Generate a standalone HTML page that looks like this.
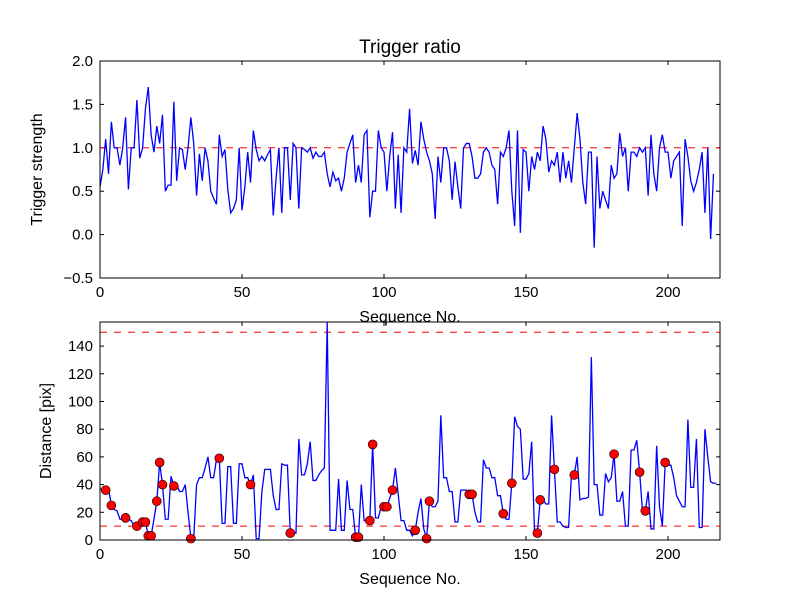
<!DOCTYPE html>
<html><head><meta charset="utf-8"><style>
body{margin:0;background:#fff}
svg{display:block;font-family:"Liberation Sans",sans-serif}
</style></head><body>
<svg id="c" width="800" height="600"></svg>
<script>
const topValues=[0.55,0.75,1.1,0.7,1.3,1.0,1.0,0.8,1.0,1.35,0.52,1.0,1.0,1.55,0.88,1.0,1.45,1.7,1.15,0.95,1.25,1.05,1.38,0.5,0.57,0.57,1.53,0.62,1.0,0.98,0.75,1.0,1.35,1.05,0.45,0.93,0.62,1.0,0.85,0.5,0.42,0.35,1.15,0.9,0.98,0.52,0.25,0.3,0.4,1.0,0.28,0.55,0.95,0.6,1.2,0.98,0.85,0.9,0.85,0.92,0.98,0.22,0.65,1.0,0.25,1.0,1.0,0.4,1.05,1.0,0.3,1.0,0.98,0.95,1.0,0.88,0.95,0.9,0.9,0.95,0.7,0.55,0.72,0.62,0.65,0.5,0.65,0.95,1.05,1.15,0.6,0.8,0.6,1.15,1.2,0.2,0.5,0.5,1.2,1.0,0.95,0.5,0.9,1.18,0.3,0.92,0.25,1.0,0.95,1.45,0.82,0.97,0.8,1.3,1.1,0.95,0.85,0.7,0.18,0.9,0.6,1.0,1.0,0.85,0.4,0.84,0.55,0.3,1.0,1.05,1.05,0.9,0.65,0.65,0.7,0.95,1.0,0.95,0.8,0.75,0.35,0.95,0.9,1.0,1.2,0.5,0.1,1.2,0.02,0.98,0.95,0.5,0.9,0.75,0.95,0.85,1.25,1.1,0.72,0.85,0.8,0.95,0.6,0.95,0.65,0.85,0.6,1.0,1.4,1.1,0.6,0.35,0.95,0.95,-0.15,0.9,0.3,0.5,0.4,0.3,0.8,0.65,0.7,1.17,0.9,1.0,0.5,0.95,0.95,0.9,1.0,0.95,1.0,0.45,1.15,0.7,0.5,1.0,1.15,0.95,0.95,0.65,0.85,0.9,0.95,0.1,1.1,0.9,0.62,0.5,0.6,0.75,0.95,0.25,1.0,-0.05,0.7];
const distValues=[37,36,38,37,25,22,21,15,15,16,15,14,10,10,13,13,13,3,3,15,28,56,40,15,15,46,39,40,35,35,40,20,1,1,40,45,45,52,60,45,45,58,59,12,12,53,53,12,12,55,55,45,45,40,47,1,1,35,51,51,51,32,22,22,55,54,54,5,5,5,73,47,47,55,71,43,43,47,50,52,157,7,7,7,44,7,7,43,22,22,2,2,40,14,14,14,69,16,16,24,24,24,30,36,52,33,14,14,7,7,3,7,20,30,8,1,28,24,24,28,90,45,45,35,35,13,13,36,36,36,33,33,20,13,13,58,52,52,45,45,32,32,19,15,15,41,89,82,80,44,44,48,71,5,5,29,29,26,26,90,51,13,13,10,9,9,48,47,60,29,30,30,31,132,40,40,18,18,48,42,45,62,28,28,35,10,10,65,65,72,49,21,21,35,8,8,68,24,10,56,54,54,45,32,28,24,24,87,38,38,73,9,9,80,60,42,41,41];
const markIdx=[2,4,9,13,15,16,17,18,20,21,22,26,32,42,53,67,90,91,95,96,100,101,103,111,115,116,130,131,142,145,154,155,160,167,181,190,192,199];
const markVal=[36,25,16,10,13,13,3,3,28,56,40,39,1,59,40,5,2,2,14,69,24,24,36,7,1,28,33,33,19,41,5,29,51,47,62,49,21,56];
const xTicks=[0,50,100,150,200];
const topTicks=[-0.5,0.0,0.5,1.0,1.5,2.0];
const botTicks=[0,20,40,60,80,100,120,140];
const topRef=[1.0], botRef=[10,150];

const svg=document.getElementById('c');const NS='http://www.w3.org/2000/svg';
function mk(t,a,p){const e=document.createElementNS(NS,t);for(const k in a)e.setAttribute(k,a[k]);(p||svg).appendChild(e);return e;}
const L=100,R=720,xmax=218.3;
const sx=v=>L+v*(R-L)/xmax;
function panel(T,B,ymin,ymax,ticks,fmt,ylabel,pname,ylx){
  const sy=v=>B-(v-ymin)*(B-T)/(ymax-ymin);
  const g=mk('g',{});
  
  
  const cp=mk('clipPath',{id:'cp'+pname},g);mk('rect',{x:L,y:T,width:R-L,height:B-T},cp);
  xTicks.forEach(t=>{const x=sx(t);mk('line',{x1:x,x2:x,y1:B,y2:B-4,stroke:'#000'},g);mk('line',{x1:x,x2:x,y1:T,y2:T+4,stroke:'#000'},g);
    const tx=mk('text',{x:x,y:B+19,'font-size':15,'text-anchor':'middle'},g);tx.textContent=t;
    
    });
  ticks.forEach(t=>{const y=sy(t);mk('line',{x1:L,x2:L+4,y1:y,y2:y,stroke:'#000'},g);mk('line',{x1:R,x2:R-4,y1:y,y2:y,stroke:'#000'},g);
    const tx=mk('text',{x:L-7,y:y+5,'font-size':15,'text-anchor':'end'},g);tx.textContent=fmt(t);
    
    });
  const yl=mk('text',{x:0,y:0,'font-size':16,'text-anchor':'middle',transform:`translate(${ylx},${(T+B)/2}) rotate(-90)`},g);yl.textContent=ylabel;
  
  
  const xl=mk('text',{x:(L+R)/2,y:B+44,'font-size':16,'text-anchor':'middle'},g);xl.textContent='Sequence No.';
  
  
  return {g,sy};
}
const topP=panel(61,278,-0.5,2.0,topTicks,t=>t.toFixed(1).replace('-','\u2212'),'Trigger strength','top-panel',42);
const botP=panel(322,540,0,157.4,botTicks,t=>t,'Distance [pix]','bottom-panel',51);
topRef.forEach(v=>{const l=mk('line',{x1:L,x2:R,y1:topP.sy(v),y2:topP.sy(v),stroke:'#f00','stroke-dasharray':'7,7'},topP.g);
  
  });
botRef.forEach(v=>{const l=mk('line',{x1:L,x2:R,y1:botP.sy(v),y2:botP.sy(v),stroke:'#f00','stroke-dasharray':'7,7'},botP.g);
  
  });
const p1=mk('polyline',{points:topValues.map((v,i)=>sx(i)+','+topP.sy(v)).join(' '),fill:'none',stroke:'#00f','stroke-width':1.3,'clip-path':'url(#cptop-panel)'},topP.g);


const p2=mk('polyline',{points:distValues.map((v,i)=>sx(i)+','+botP.sy(v)).join(' '),fill:'none',stroke:'#00f','stroke-width':1.3,'clip-path':'url(#cpbottom-panel)'},botP.g);


markIdx.forEach((ix,k)=>{const c=mk('circle',{cx:sx(ix),cy:botP.sy(markVal[k]),r:4.5,fill:'#f00',stroke:'#000','stroke-width':0.6},botP.g);
  
  });
mk('rect',{x:L,y:61,width:R-L,height:217,fill:'none',stroke:'#000','stroke-width':1},topP.g);
mk('rect',{x:L,y:322,width:R-L,height:218,fill:'none',stroke:'#000','stroke-width':1},botP.g);
const ti=mk('text',{x:410,y:53,'font-size':19,'text-anchor':'middle'});ti.textContent='Trigger ratio';


</script>
</body></html>
